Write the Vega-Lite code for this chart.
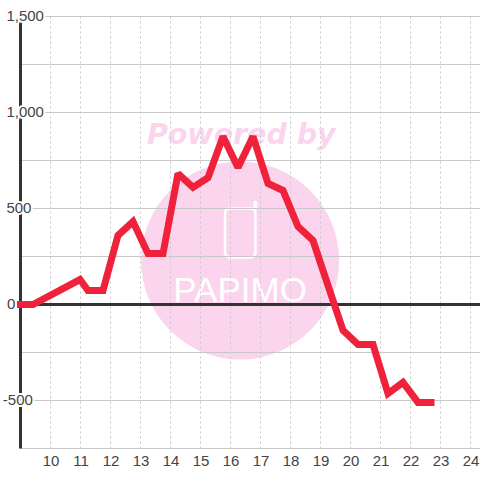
{
"$schema":"https://vega.github.io/schema/vega-lite/v6.json",
"width":459.5,"height":432,
"autosize":"none",
"padding":{"left":20.5,"top":16.5,"right":0,"bottom":31.5},
"background":"#ffffff",
"view":{"stroke":null},
"config":{"font":"Liberation Sans"},
"datasets":{
"series":[
{"h":8.883,"v":0},{"h":9.417,"v":0},{"h":10.983,"v":130},{"h":11.25,"v":73},{"h":11.75,"v":73},{"h":12.25,"v":360},{"h":12.75,"v":432},{"h":13.25,"v":265},{"h":13.75,"v":265},{"h":14.25,"v":682},{"h":14.75,"v":610},{"h":15.25,"v":661},{"h":15.75,"v":875},{"h":16.25,"v":713},{"h":16.75,"v":875},{"h":17.25,"v":630},{"h":17.75,"v":594},{"h":18.25,"v":406},{"h":18.75,"v":333},{"h":19.75,"v":-135},{"h":20.25,"v":-208},{"h":20.75,"v":-208},{"h":21.25,"v":-464},{"h":21.75,"v":-406},{"h":22.25,"v":-510},{"h":22.8,"v":-510}],
"hours":[{"h":10},{"h":11},{"h":12},{"h":13},{"h":14},{"h":15},{"h":16},{"h":17},{"h":18},{"h":19},{"h":20},{"h":21},{"h":22},{"h":23},{"h":24}],
"levels":[{"v":1500},{"v":1250},{"v":1000},{"v":750},{"v":500},{"v":250},{"v":-250},{"v":-500},{"v":-750}],
"ylabels":[{"h":8.53,"v":1500,"t":"1,500"},{"h":8.53,"v":1000,"t":"1,000"},{"h":8.53,"v":500,"t":"500"},{"h":8.55,"v":0,"t":"0"},{"h":8.41,"v":-500,"t":"-500"}]
},
"encoding":{
"x":{"field":"h","type":"quantitative","title":null,"scale":{"domain":[9,24.317],"nice":false,"zero":false},"axis":{"values":[10,11,12,13,14,15,16,17,18,19,20,21,22,23,24],"format":"d","grid":false,"domain":false,"ticks":false,"labelFontSize":15,"labelColor":"#444444","labelPadding":5,"title":null,"labelFont":"Liberation Sans","labelOverlap":false,"labelFlush":false}},
"y":{"field":"v","type":"quantitative","title":null,"axis":null,"scale":{"domain":[-750,1500],"nice":false,"zero":false}}
},
"layer":[
{"data":{"values":[{"h":16.32,"v":229}]},"mark":{"type":"point","shape":"circle","filled":true,"size":39204,"color":"#fbd5ee","opacity":1}},
{"data":{"values":[{"h":16.36,"v":885,"t":"Powered by"}]},"mark":{"type":"text","font":"DejaVu Sans","fontWeight":"bold","fontStyle":"italic","fontSize":28.5,"color":"#fbd5ee","align":"center","baseline":"middle"},
"encoding":{"text":{"field":"t"}}},
{"data":{"values":[{"h":16.32,"v":15,"t":"PAPIMO"}]},"mark":{"type":"text","font":"Liberation Sans","fontSize":35,"color":"#ffffff","align":"center","baseline":"alphabetic"},
"encoding":{"text":{"field":"t"}}},
{"data":{"values":[{"h":15.817,"b":16.83,"v":245,"d":500}]},"mark":{"type":"rect","fill":null,"stroke":"#ffffff","strokeWidth":2.5,"cornerRadius":5},
"encoding":{"x2":{"field":"b"},"y2":{"field":"d"}}},
{"data":{"values":[{"h":16.83,"v":500,"d":530}]},"mark":{"type":"rule","stroke":"#ffffff","strokeWidth":4,"strokeCap":"round"},
"encoding":{"y2":{"field":"d"}}},
{"data":{"name":"hours"},"mark":{"type":"rule","stroke":"#c8c8c8","strokeWidth":1,"strokeDash":[2,3]},
"encoding":{"y":null}},
{"data":{"name":"levels"},"mark":{"type":"rule","stroke":"#c8c8c8","strokeWidth":1},
"encoding":{"x":null}},
{"data":{"values":[{"h":9}]},"mark":{"type":"rule","stroke":"#333333","strokeWidth":3},
"encoding":{"y":null}},
{"data":{"values":[{"v":0}]},"mark":{"type":"rule","stroke":"#333333","strokeWidth":3},
"encoding":{"x":null}},
{"data":{"name":"ylabels"},"mark":{"type":"text","align":"left","baseline":"middle","dy":-1,"fontSize":15,"stroke":"#ffffff","strokeWidth":4,"color":"#ffffff"},
"encoding":{"text":{"field":"t"}}},
{"data":{"name":"ylabels"},"mark":{"type":"text","align":"left","baseline":"middle","dy":-1,"fontSize":15,"color":"#444444"},
"encoding":{"text":{"field":"t"}}},
{"data":{"name":"series"},"mark":{"type":"line","color":"#f0213a","strokeWidth":7,"strokeJoin":"miter","strokeMiterLimit":2,"strokeCap":"butt","interpolate":"linear"}}
]
}
